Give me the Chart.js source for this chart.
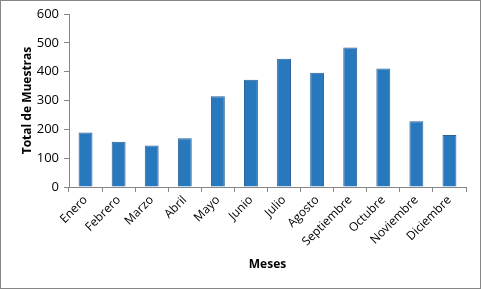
<!DOCTYPE html>
<html>
<head>
<meta charset="utf-8">
<script src="https://cdn.jsdelivr.net/npm/chart.js@4/dist/chart.umd.min.js"></script>
<style>
    body { margin: 0; background: #fff; }
    #wrap { width: 479px; height: 287px; border: 1px solid #868686; position: relative; }
</style>
</head>
<body>
<div id="wrap"><canvas id="chart" width="479" height="287"></canvas></div>
<script>
// Chart data
const months = ['Enero', 'Febrero', 'Marzo', 'Abril', 'Mayo', 'Junio', 'Julio', 'Agosto', 'Septiembre', 'Octubre', 'Noviembre', 'Diciembre'];
const samples = [189, 157, 144, 169, 315, 372, 445, 396, 484, 411, 228, 180];
const yTicks = [0, 100, 200, 300, 400, 500, 600];

const axisColor = '#868686';
const fontFamily = "'Open Sans', 'Liberation Sans', sans-serif";

document.addEventListener('DOMContentLoaded', function() {
    const ctx = document.getElementById('chart');
    new Chart(ctx, {
        type: 'bar',
        data: {
            labels: months,
            datasets: [{
                data: samples,
                backgroundColor: '#2878BE',
                borderColor: '#2A6199',
                borderWidth: 1,
                categoryPercentage: 1,
                barPercentage: 0.42
            }]
        },
        options: {
            responsive: false,
            animation: false,
            layout: { padding: { top: 13, right: 14, left: 0, bottom: 0 } },
            plugins: {
                legend: { display: false },
                tooltip: { enabled: false }
            },
            scales: {
                x: {
                    grid: {
                        display: true,
                        drawOnChartArea: false,
                        offset: true,
                        color: axisColor,
                        tickLength: 5
                    },
                    border: { color: axisColor },
                    ticks: {
                        color: '#000',
                        font: { family: fontFamily, size: 12 },
                        maxRotation: 45,
                        minRotation: 45,
                        padding: 1
                    },
                    title: {
                        display: true,
                        text: 'Meses',
                        color: '#000',
                        font: { family: fontFamily, size: 12, weight: 'bold' },
                        padding: { top: 10, bottom: 16 }
                    },
                    afterFit: function(scale) { scale.height = 101; }
                },
                y: {
                    min: 0,
                    max: 600,
                    afterBuildTicks: function(scale) {
                        scale.ticks = yTicks.map(v => ({ value: v }));
                    },
                    grid: {
                        display: true,
                        drawOnChartArea: false,
                        color: axisColor,
                        tickLength: 5
                    },
                    border: { color: axisColor },
                    ticks: {
                        color: '#000',
                        font: { family: fontFamily, size: 13 },
                        padding: 5
                    },
                    title: {
                        display: true,
                        text: 'Total de Muestras',
                        color: '#000',
                        font: { family: fontFamily, size: 12, weight: 'bold' },
                        padding: { top: 19, bottom: 0 }
                    },
                    afterFit: function(scale) { scale.width = 68; }
                }
            }
        }
    });
});
</script>
</body>
</html>
